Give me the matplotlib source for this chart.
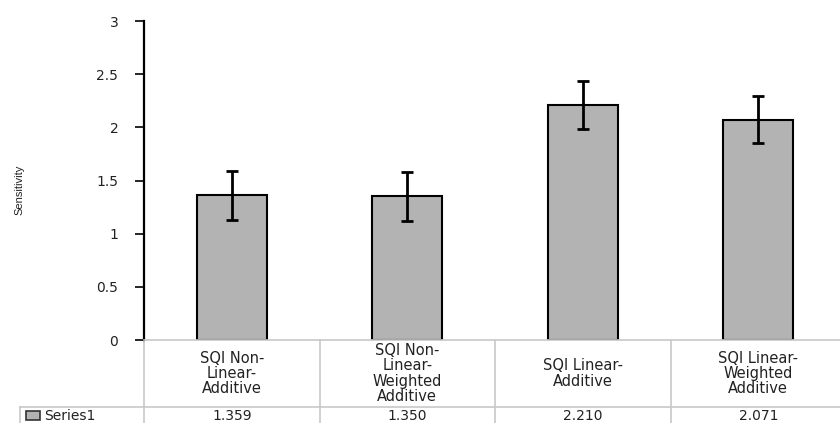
import matplotlib
matplotlib.use("Agg")
import matplotlib.pyplot as plt
from matplotlib.patches import Rectangle

plt.rcParams["font.family"] = ["DejaVu Sans"]

# ── data ──
categories = ["SQI Non-\nLinear-\nAdditive",
              "SQI Non-\nLinear-\nWeighted\nAdditive",
              "SQI Linear-\nAdditive",
              "SQI Linear-\nWeighted\nAdditive"]
values = [1.359, 1.350, 2.210, 2.071]
errors = [0.23, 0.23, 0.23, 0.22]
series_name = "Series1"
yticks = [0, 0.5, 1, 1.5, 2, 2.5, 3]
ytick_labels = ["0", "0.5", "1", "1.5", "2", "2.5", "3"]

BAR_COLOR = "#b3b3b3"
GRID_GRAY = "#c8c8c8"
TEXT_GRAY = "#222222"

fig = plt.figure(figsize=(8.4, 4.23), dpi=100)
W, H = 840, 423
x0, x1 = 144, 846
ytop, ybot = 21, 340
ax = fig.add_axes([x0 / W, 1 - ybot / H, (x1 - x0) / W, (ybot - ytop) / H])

xs = list(range(len(values)))
ax.bar(xs, values, width=0.4, color=BAR_COLOR, edgecolor="black", linewidth=1.5, zorder=2)
ax.errorbar(xs, values, yerr=errors, fmt="none", ecolor="black",
            elinewidth=2, capsize=4.5, capthick=2, zorder=3)

ax.set_xlim(-0.5, len(values) - 0.5)
ax.set_ylim(0, 3)
ax.set_yticks(yticks)
ax.set_yticklabels(ytick_labels, fontsize=10, color=TEXT_GRAY)
ax.tick_params(axis="y", length=6.5, width=1.2, pad=12)
ax.set_xticks([])

for s in ["top", "right"]:
    ax.spines[s].set_visible(False)
ax.spines["left"].set_linewidth(1.6)
ax.spines["bottom"].set_color(GRID_GRAY)
ax.spines["bottom"].set_linewidth(1.2)

ax.set_ylabel("Sensitivity", family=["Liberation Sans Narrow", "Liberation Sans"],
              fontsize=8, color=TEXT_GRAY)
ax.yaxis.set_label_coords((24 - x0) / (x1 - x0), (ybot - 190) / (ybot - ytop))

# ── data table under the axis ──
trans = ax.get_xaxis_transform()
ax_h = ybot - ytop
row1 = -(407 - ybot) / ax_h
row2 = -(440 - ybot) / ax_h
left_cell = -0.5 - (x0 - 20) / ((x1 - x0) / len(values))

for b in [-0.5 + i for i in range(len(values) + 1)]:
    ax.plot([b, b], [0, row2], transform=trans, color=GRID_GRAY, lw=1.2, clip_on=False)
ax.plot([left_cell, len(values) - 0.5], [row1, row1], transform=trans,
        color=GRID_GRAY, lw=1.2, clip_on=False)
ax.plot([left_cell, left_cell], [row1, row2], transform=trans,
        color=GRID_GRAY, lw=1.2, clip_on=False)

for i, (cat, v) in enumerate(zip(categories, values)):
    ax.text(i, row1 / 2, cat, transform=trans, ha="center", va="center",
            fontsize=10.5, color=TEXT_GRAY, linespacing=1.02, clip_on=False)
    ax.text(i, -(420 - ybot) / ax_h, f"{v:.3f}", transform=trans, ha="center",
            va="baseline", fontsize=10, color=TEXT_GRAY, clip_on=False)

# legend key + series name in the row-label cell
fig.patches.append(Rectangle((26 / W, 1 - 420 / H), 14 / W, 9 / H, transform=fig.transFigure,
                             facecolor=BAR_COLOR, edgecolor="#333333", lw=1.2))
fig.text(44 / W, 1 - 420 / H, series_name, ha="left", va="baseline",
         fontsize=10, color=TEXT_GRAY)

fig.savefig("out.png", dpi=100)
